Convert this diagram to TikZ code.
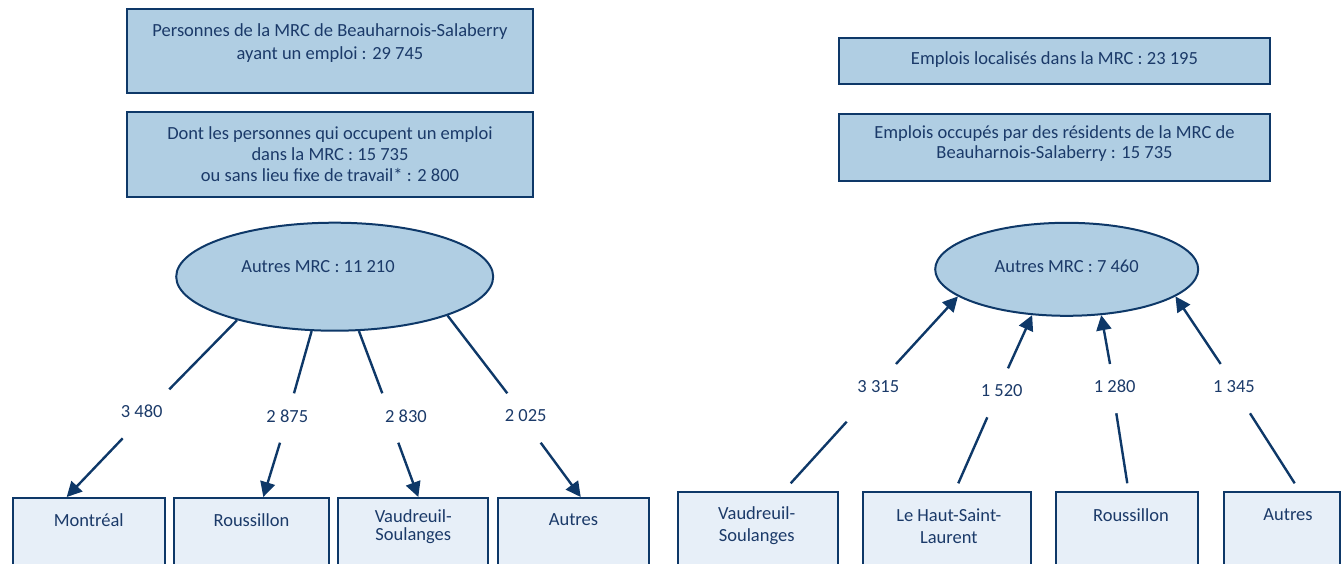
\documentclass[tikz,border=0pt]{standalone}
\usepackage{fontspec}
\setmainfont{Carlito}
\usetikzlibrary{arrows.meta,shapes.geometric,calc}
\definecolor{navy}{RGB}{14,56,104}
\definecolor{txtc}{RGB}{27,58,105}
\definecolor{fillA}{RGB}{176,206,227}
\definecolor{fillB}{RGB}{231,239,248}
\begin{document}
\begin{tikzpicture}[x=1pt,y=-1pt,
  box/.style={draw=navy,line width=2pt,fill=fillA,inner sep=0pt,rectangle},
  lbox/.style={draw=navy,line width=2pt,fill=fillB,inner sep=0pt,rectangle},
  ell/.style={ellipse,draw=navy,line width=2pt,fill=fillA,inner sep=0pt},
  txt/.style={text=txtc,font=\fontsize{18.5}{22}\selectfont,align=center,inner sep=0pt},
  conn/.style={draw=navy,line width=2.4pt},
  arr/.style={conn,-{Triangle[length=15pt,width=15pt]}}
]
\useasboundingbox (0,0) rectangle (1344,563);
\clip (0,0) rectangle (1344,563);

% ---------- left part ----------
\node[box,minimum width=406,minimum height=84] (p1) at (330,51) {};
\node[txt,font=\fontsize{18.5}{23}\selectfont] (p1t) at (330,43) {Personnes de la MRC de Beauharnois-Salaberry\\ayant un emploi : 29 745};
\node[box,minimum width=406,minimum height=85] (p2) at (330,154.5) {};
\node[txt,font=\fontsize{18.5}{21}\selectfont] (p2t) at (330,154) {Dont les personnes qui occupent un emploi\\dans la MRC : 15 735\\ou sans lieu fixe de travail* : 2 800};

\node[ell,minimum width=317,minimum height=108] (L) at (334.7,276.7) {};
\node[txt] (Lt) at (318,266.7) {Autres MRC : 11 210};

\node[lbox,minimum width=152,minimum height=110] (m1) at (88.7,553) {};
\node[txt] (m1t) at (88.7,520) {Montréal};
\node[lbox,minimum width=155,minimum height=110] (m2) at (251.7,553) {};
\node[txt] (m2t) at (251.5,520) {Roussillon};
\node[lbox,minimum width=150,minimum height=110] (m3) at (413.3,553) {};
\node[txt,font=\fontsize{18.5}{18}\selectfont] (m3t) at (413.3,527) {Vaudreuil-\\Soulanges};
\node[lbox,minimum width=151,minimum height=110] (m4) at (573.7,553) {};
\node[txt] (m4t) at (573.5,520) {Autres};

\node[txt] (n1) at (141.7,411.7) {3 480};
\node[txt] (n2) at (287.3,416) {2 875};
\node[txt] (n3) at (406,416) {2 830};
\node[txt] (n4) at (525.7,416) {2 025};

\coordinate (a1) at (169.3,389.3);
\coordinate (a2) at (122.7,438.3);
\coordinate (b1) at (294,393.3);
\coordinate (b2) at (280,442.7);
\coordinate (c1) at (382.3,393.3);
\coordinate (c2) at (398.3,442.7);
\coordinate (d1) at (507.3,393.3);
\coordinate (d2) at (540.7,442.7);

\draw[conn] (L.204.8) -- (a1);
\draw[arr] (a2) -- ($(m1.north west)!0.357!(m1.north east)$);
\draw[conn] (L.247.7) -- (b1);
\draw[arr] (b2) -- ($(m2.north west)!0.574!(m2.north east)$);
\draw[conn] (L.294.9) -- (c1);
\draw[arr] (c2) -- ($(m3.north west)!0.533!(m3.north east)$);
\draw[conn] (L.341.7) -- (d1);
\draw[arr] (d2) -- ($(m4.north west)!0.546!(m4.north east)$);

% ---------- right part ----------
\node[box,minimum width=431,minimum height=46] (q1) at (1054.5,61) {};
\node[txt] (q1t) at (1054.5,60) {Emplois localisés dans la MRC : 23 195};
\node[box,minimum width=431,minimum height=67] (q2) at (1054.5,147.5) {};
\node[txt,font=\fontsize{18.5}{20}\selectfont] (q2t) at (1054.5,144) {Emplois occupés par des résidents de la MRC de\\Beauharnois-Salaberry : 15 735};

\node[ell,minimum width=263,minimum height=93] (R) at (1066.7,269.3) {};
\node[txt] (Rt) at (1066.7,266.7) {Autres MRC : 7 460};

\node[lbox,minimum width=160,minimum height=110] (r1) at (757.5,546.7) {};
\node[txt,font=\fontsize{18.5}{21.7}\selectfont] (r1t) at (756.7,526) {Vaudreuil-\\Soulanges};
\node[lbox,minimum width=168,minimum height=110] (r2) at (947,546.7) {};
\node[txt,font=\fontsize{18.5}{21.7}\selectfont] (r2t) at (948.8,526) {Le Haut-Saint-\\Laurent};
\node[lbox,minimum width=142,minimum height=110] (r3) at (1127,546.7) {};
\node[txt] (r3t) at (1131,515) {Roussillon};
\node[lbox,minimum width=116,minimum height=110] (r4) at (1282,546.7) {};
\node[txt] (r4t) at (1288,515) {Autres};

\node[txt] (k1) at (878.3,386.7) {3 315};
\node[txt] (k2) at (1001.7,390.7) {1 520};
\node[txt] (k3) at (1114.7,386.7) {1 280};
\node[txt] (k4) at (1234,386.7) {1 345};

\coordinate (e1) at (790.7,483.3);
\coordinate (e2) at (846.7,421.7);
\coordinate (e3) at (896,364);
\coordinate (f1) at (958.3,483.3);
\coordinate (f2) at (987.3,417.3);
\coordinate (f3) at (1008,368.3);
\coordinate (g1) at (1127.3,483.3);
\coordinate (g2) at (1116.3,413.3);
\coordinate (g3) at (1110,364);
\coordinate (h1) at (1294.7,483.3);
\coordinate (h2) at (1250,413.3);
\coordinate (h3) at (1220.7,364);

\draw[conn] (e1) -- (e2);
\draw[arr] (e3) -- (R.194.3);
\draw[conn] (f1) -- (f2);
\draw[arr] (f3) -- (R.233.7);
\draw[conn] (g1) -- (g2);
\draw[arr] (g3) -- (R.307.3);
\draw[conn] (h1) -- (h2);
\draw[arr] (h3) -- (R.346);
\end{tikzpicture}
\end{document}
